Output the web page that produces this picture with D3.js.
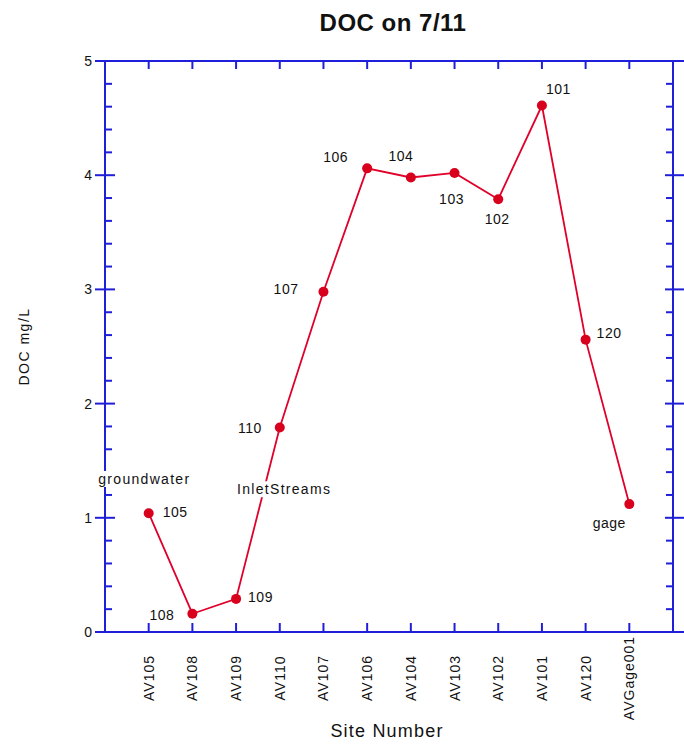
<!DOCTYPE html>
<html>
<head>
<meta charset="utf-8">
<script src="https://cdn.jsdelivr.net/npm/d3@7"></script>
<style>
  html, body { margin: 0; padding: 0; background: #fff; }
  svg { display: block; font-family: "Liberation Sans", Arial, sans-serif; }
</style>
</head>
<body>
<svg id="chart" width="684" height="746"></svg>
<script>
// ---- data ----
const sites = ["AV105","AV108","AV109","AV110","AV107","AV106","AV104","AV103","AV102","AV101","AV120","AVGage001"];
const docValues = [1.04, 0.16, 0.29, 1.79, 2.98, 4.06, 3.98, 4.02, 3.79, 4.61, 2.56, 1.12];
const pointLabels = ["105","108","109","110","107","106","104","103","102","101","120","gage"];
const yTicks = [0, 1, 2, 3, 4, 5];
const groupLabels = ["groundwater", "InletStreams"];
const groupLabelAt = [[-0.1, 1.34], [3.1, 1.25]]; // [category index, value]

// ---- layout ----
const svg = d3.select("#chart");
const L = 105, R = 673, T = 61, B = 632;
const blue = "#1f1fd9", red = "#e0002a";
const x = d3.scaleLinear().domain([-1, sites.length]).range([L, R]);
const y = d3.scaleLinear().domain([0, 5]).range([B, T]);

// label offsets [dx, dy, anchor] relative to point
const labelLayout = [
  [14, 4, "start"], [-18, 6, "end"], [12, 3, "start"], [-18, 5, "end"],
  [-25, 2, "end"], [-19, -6, "end"], [-10, -16, "middle"], [-3, 31, "middle"],
  [-1, 25, "middle"], [4, -12, "start"], [11, -2, "start"], [-20, 24, "middle"]
];

// title
svg.append("text").attr("x", 393).attr("y", 31).attr("text-anchor", "middle")
  .attr("font-size", 24).attr("font-weight", "bold").attr("letter-spacing", 0.5).attr("fill", "#111")
  .text("DOC on 7/11");

// axis labels
svg.append("text").attr("transform", `translate(29,${(T + B) / 2}) rotate(-90)`)
  .attr("text-anchor", "middle").attr("font-size", 14).attr("letter-spacing", 1.5)
  .attr("fill", "#111").text("DOC mg/L");
svg.append("text").attr("x", 387).attr("y", 737).attr("text-anchor", "middle")
  .attr("font-size", 18).attr("letter-spacing", 1.2).attr("fill", "#111").text("Site Number");

// frame
svg.append("rect").attr("x", L).attr("y", T).attr("width", R - L).attr("height", B - T)
  .attr("fill", "none").attr("stroke", blue).attr("stroke-width", 2);

// y minor/major ticks on left and right
const minor = d3.range(0, 5.001, 0.2).filter(v => Math.abs(v - Math.round(v)) > 1e-6);
const ax = svg.append("g").attr("stroke", blue).attr("stroke-width", 2);
ax.selectAll(".lmin").data(minor).join("line")
  .attr("x1", L).attr("x2", L + 7).attr("y1", d => y(d)).attr("y2", d => y(d));
ax.selectAll(".rmin").data(minor).join("line")
  .attr("x1", R).attr("x2", R - 7).attr("y1", d => y(d)).attr("y2", d => y(d));
ax.selectAll(".lmaj").data(yTicks).join("line")
  .attr("x1", L - 10).attr("x2", L + 10).attr("y1", d => y(d)).attr("y2", d => y(d));
ax.selectAll(".rmaj").data(yTicks).join("line")
  .attr("x1", R - 8).attr("x2", R + 12).attr("y1", d => y(d)).attr("y2", d => y(d));
// x ticks top and bottom (inward)
ax.selectAll(".tt").data(sites).join("line")
  .attr("x1", (d, i) => x(i)).attr("x2", (d, i) => x(i)).attr("y1", T).attr("y2", T + 8);
ax.selectAll(".bt").data(sites).join("line")
  .attr("x1", (d, i) => x(i)).attr("x2", (d, i) => x(i)).attr("y1", B).attr("y2", B - 9);

// y tick labels
svg.selectAll(".yl").data(yTicks).join("text")
  .attr("x", L - 13).attr("y", d => y(d) + 5).attr("text-anchor", "end")
  .attr("font-size", 14).attr("fill", "#111").text(d => d);

// x tick labels rotated, centred
svg.selectAll(".xl").data(sites).join("text")
  .attr("transform", (d, i) => `translate(${x(i) + 5},678) rotate(-90)`)
  .attr("text-anchor", "middle").attr("font-size", 14).attr("letter-spacing", 1)
  .attr("fill", "#111").text(d => d);

// line and points
const line = d3.line().x((d, i) => x(i)).y(d => y(d));
svg.append("path").datum(docValues).attr("d", line)
  .attr("fill", "none").attr("stroke", red).attr("stroke-width", 1.8);

// group labels with white boxes
groupLabels.forEach((t, k) => {
  const [ci, v] = groupLabelAt[k];
  const g = svg.append("g");
  const tx = g.append("text").attr("x", x(ci)).attr("y", y(v) + 5).attr("text-anchor", "middle")
    .attr("font-size", 14).attr("letter-spacing", 1.3).attr("fill", "#111").text(t);
  const bb = tx.node().getBBox();
  g.insert("rect", "text").attr("x", bb.x - 2).attr("y", bb.y).attr("width", bb.width + 4)
    .attr("height", bb.height).attr("fill", "#fff");
});

svg.selectAll(".pt").data(docValues).join("circle")
  .attr("cx", (d, i) => x(i)).attr("cy", d => y(d)).attr("r", 5).attr("fill", "#d8001c");

// point labels
svg.selectAll(".pl").data(pointLabels).join("text")
  .attr("x", (d, i) => x(i) + labelLayout[i][0])
  .attr("y", (d, i) => y(docValues[i]) + labelLayout[i][1])
  .attr("text-anchor", (d, i) => labelLayout[i][2])
  .attr("font-size", 14).attr("letter-spacing", 0.5).attr("fill", "#111").text(d => d);
</script>
</body>
</html>
